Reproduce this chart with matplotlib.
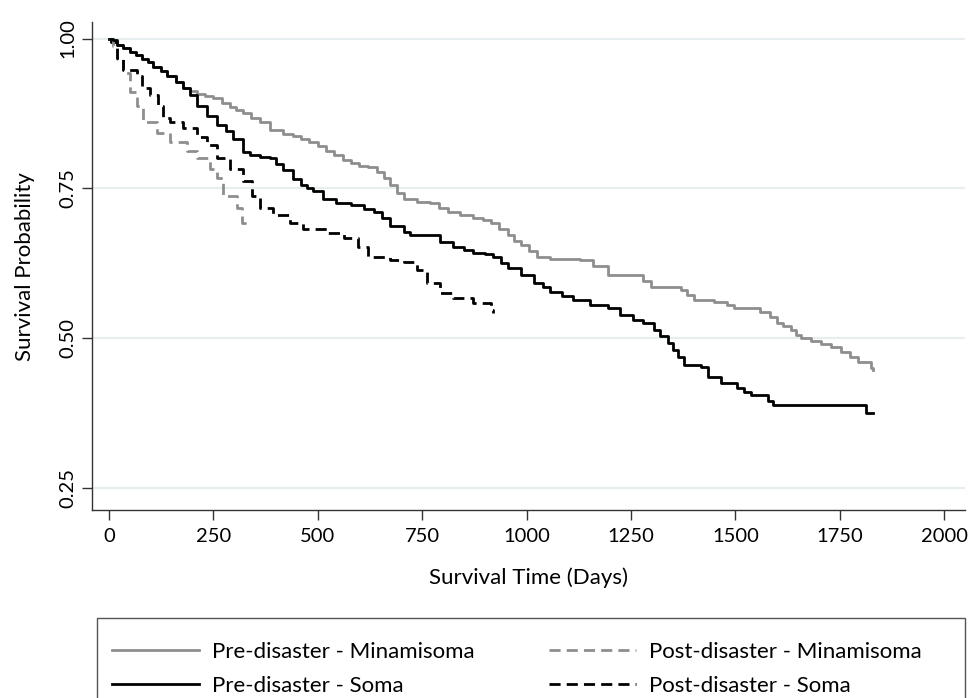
import matplotlib
matplotlib.use("Agg")
import matplotlib.pyplot as plt
from matplotlib.lines import Line2D
from matplotlib.patches import Rectangle

plt.rcParams['font.family'] = ['Lato', 'DejaVu Sans']

# ---- data (Kaplan-Meier step curves) ----
pre_mina_t = [0, 5, 20, 35, 51, 65, 80, 95, 107, 125, 140, 160, 178, 195, 212, 230, 250, 270,
              291, 305, 322, 340, 363, 387,
              418, 440, 459, 480, 500, 520, 540, 560, 579, 600, 620, 643, 660, 674, 690, 706,
              739, 770, 790, 811, 842, 873, 895, 914, 935, 955, 970, 986, 1005, 1026, 1057,
              1129, 1160, 1194, 1256, 1280, 1297, 1369, 1385, 1400, 1450, 1480, 1496, 1560,
              1584, 1600, 1615, 1632, 1645, 1656, 1680, 1704, 1730, 1752, 1775, 1793, 1825, 1829]
pre_mina_s = [1.0, 0.995, 0.99, 0.985, 0.978, 0.972, 0.965, 0.96, 0.953, 0.946, 0.938, 0.928,
              0.918, 0.912, 0.908, 0.904, 0.9, 0.892, 0.885,
              0.88, 0.875, 0.868, 0.86, 0.847, 0.84, 0.837, 0.833, 0.827, 0.82, 0.812, 0.805,
              0.797, 0.792, 0.788, 0.785, 0.777, 0.767, 0.755, 0.743, 0.733, 0.728, 0.725,
              0.718, 0.71, 0.705, 0.70, 0.697, 0.692, 0.682, 0.672, 0.663, 0.655, 0.645, 0.635,
              0.632, 0.63, 0.62, 0.605, 0.605, 0.595, 0.585, 0.58, 0.572, 0.563, 0.56, 0.555,
              0.55, 0.543, 0.535, 0.525, 0.52, 0.513, 0.505, 0.50, 0.495, 0.49, 0.485, 0.477,
              0.468, 0.46, 0.45, 0.447]

pre_soma_t = [0, 5, 20, 35, 51, 65, 80, 95, 107, 125, 140, 160, 178, 195, 212, 236, 260, 280,
              298, 322, 339, 363, 387, 400, 418, 440, 459, 475, 490, 514, 545, 579, 610, 634,
              655, 674, 706, 722, 770, 794, 825, 850, 873, 900, 921, 940, 955, 986, 1017, 1040,
              1057, 1085, 1112, 1153, 1194, 1225, 1256, 1280, 1305, 1320, 1338, 1350, 1362,
              1376, 1417, 1434, 1465, 1505, 1520, 1537, 1577, 1590, 1812, 1829]
pre_soma_s = [1.0, 0.995, 0.99, 0.985, 0.978, 0.972, 0.965, 0.96, 0.953, 0.946, 0.938, 0.928,
              0.918, 0.905, 0.888, 0.87, 0.855, 0.845, 0.833, 0.81, 0.806, 0.802, 0.80, 0.79,
              0.78, 0.765, 0.755, 0.75, 0.745, 0.733, 0.725, 0.722, 0.715, 0.71, 0.7, 0.688,
              0.677, 0.673, 0.672, 0.66, 0.652, 0.648, 0.643, 0.64, 0.635, 0.625, 0.617, 0.605,
              0.592, 0.585, 0.577, 0.57, 0.563, 0.555, 0.55, 0.538, 0.53, 0.525, 0.513, 0.503,
              0.492, 0.48, 0.468, 0.455, 0.452, 0.435, 0.425, 0.417, 0.41, 0.405, 0.395, 0.388,
              0.375, 0.375]

post_mina_t = [0, 11, 20, 35, 51, 68, 83, 116, 147, 188, 212, 243, 260, 274, 308, 320, 325]
post_mina_s = [1.0, 0.988, 0.965, 0.943, 0.91, 0.888, 0.86, 0.843, 0.827, 0.813, 0.80, 0.783,
               0.767, 0.738, 0.718, 0.693, 0.683]

post_soma_t = [0, 11, 20, 35, 68, 80, 99, 119, 131, 147, 178, 212, 236, 260, 291, 322, 344,
               363, 394, 435, 466, 523, 562, 596, 620, 674, 706, 739, 763, 794, 825, 873, 914, 921]
post_soma_s = [1.0, 0.997, 0.967, 0.947, 0.938, 0.917, 0.905, 0.888, 0.867, 0.86, 0.85, 0.835,
               0.822, 0.80, 0.783, 0.763, 0.738, 0.718, 0.705, 0.693, 0.683, 0.675, 0.667, 0.652,
               0.635, 0.63, 0.627, 0.613, 0.592, 0.575, 0.567, 0.558, 0.547, 0.542]

labels = ["Pre-disaster - Minamisoma", "Post-disaster - Minamisoma",
          "Pre-disaster - Soma", "Post-disaster - Soma"]
x_ticks = [0, 250, 500, 750, 1000, 1250, 1500, 1750, 2000]
y_ticks = [0.25, 0.50, 0.75, 1.00]

GRAY = '#8e8e8e'
BLACK = '#000000'
DASH = (4, 2.2)

fig = plt.figure(figsize=(9.69, 6.98), dpi=100)
ax = fig.add_axes([0.095, 0.269, 0.901, 0.699])

for y in y_ticks:
    ax.axhline(y, color='#e6eeef', lw=1.6, zorder=0)

lw = 2.0
ax.plot(pre_mina_t, pre_mina_s, drawstyle='steps-post', color=GRAY, lw=lw)
ax.plot(pre_soma_t, pre_soma_s, drawstyle='steps-post', color=BLACK, lw=lw)
ax.plot(post_mina_t, post_mina_s, drawstyle='steps-post', color=GRAY, lw=lw, dashes=DASH)
ax.plot(post_soma_t, post_soma_s, drawstyle='steps-post', color=BLACK, lw=lw, dashes=DASH)

ax.set_xlim(-40, 2050)
ax.set_ylim(0.213, 1.027)
ax.set_xticks(x_ticks)
ax.set_xticklabels([str(v) for v in x_ticks])
ax.set_yticks(y_ticks)
ax.set_yticklabels(["%.2f" % v for v in y_ticks], rotation=90, va='center')

for s in ['top', 'right']:
    ax.spines[s].set_visible(False)
for s in ['left', 'bottom']:
    ax.spines[s].set_color('#333333')
    ax.spines[s].set_linewidth(1.0)
ax.tick_params(axis='both', direction='out', length=7, width=1.0, color='#333333',
               labelsize=14.5)
ax.tick_params(axis='x', pad=6)
ax.tick_params(axis='y', pad=4)
ax.set_xlabel("Survival Time (Days)", fontsize=16, labelpad=16)
ax.set_ylabel("Survival Probability", fontsize=16, labelpad=18)

handles = [
    Line2D([], [], color=GRAY, lw=lw),
    Line2D([], [], color=GRAY, lw=lw, dashes=DASH),
    Line2D([], [], color=BLACK, lw=lw),
    Line2D([], [], color=BLACK, lw=lw, dashes=DASH),
]
# legend frame (extends past the bottom edge like the reference)
fig.patches.append(Rectangle((0.100, -0.05), 0.896, 0.1646, transform=fig.transFigure,
                             fill=False, edgecolor='#555555', linewidth=1.0))
order = [0, 2, 1, 3]
leg = fig.legend([handles[i] for i in order], [labels[i] for i in order],
                 loc='upper left', bbox_to_anchor=(112 / 969, 1 - 642 / 698),
                 bbox_transform=fig.transFigure, ncol=2, fontsize=16,
                 frameon=False, handlelength=3.9, handletextpad=0.6, borderpad=0,
                 borderaxespad=0, labelspacing=0.62, columnspacing=3.35)

fig.savefig("out.png", dpi=100)
